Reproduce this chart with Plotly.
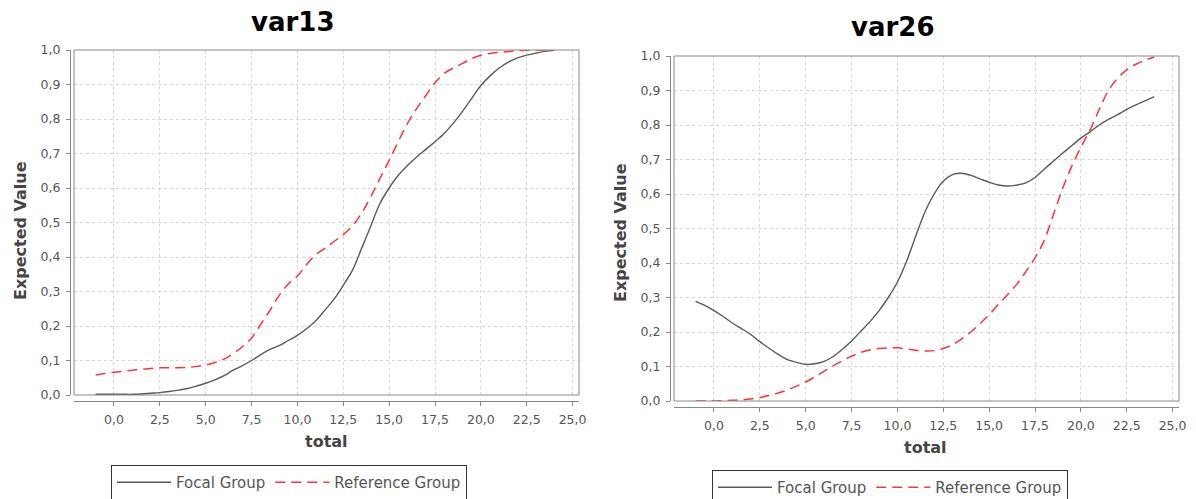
import plotly.graph_objects as go

W, H = 1196, 499

# ---------------- data ----------------
x_vals = [-1, -0.5, 0, 0.5, 1, 1.5, 2, 2.5, 3, 3.5, 4, 4.5, 5, 5.5, 6, 6.5, 7, 7.5, 8, 8.5,
          9, 9.5, 10, 10.5, 11, 11.5, 12, 12.5, 13, 13.5, 14, 14.5, 15, 15.5, 16, 16.5,
          17, 17.5, 18, 18.5, 19, 19.5, 20, 20.5, 21, 21.5, 22, 22.5, 23, 23.5, 24]

var13_focal = [0.002, 0.002, 0.002, 0.002, 0.002, 0.003, 0.005, 0.007, 0.010, 0.014, 0.019,
               0.026, 0.034, 0.044, 0.056, 0.072, 0.085, 0.100, 0.117, 0.132, 0.143, 0.158,
               0.173, 0.192, 0.215, 0.246, 0.278, 0.318, 0.362, 0.425, 0.490, 0.555, 0.600,
               0.637, 0.665, 0.690, 0.712, 0.734, 0.758, 0.788, 0.822, 0.860, 0.897, 0.925,
               0.948, 0.965, 0.977, 0.985, 0.991, 0.996, 0.999]

var13_reference = [0.058, 0.062, 0.066, 0.069, 0.072, 0.075, 0.077, 0.079, 0.079, 0.079, 0.080,
                   0.083, 0.087, 0.094, 0.104, 0.120, 0.140, 0.165, 0.205, 0.245, 0.288, 0.322,
                   0.345, 0.378, 0.407, 0.425, 0.445, 0.465, 0.490, 0.527, 0.575, 0.628, 0.680,
                   0.735, 0.787, 0.830, 0.868, 0.905, 0.932, 0.948, 0.961, 0.975, 0.985, 0.990,
                   0.993, 0.996, 0.998, 0.999, 1.000, 1.000, 1.000]

var26_focal = [0.289, 0.277, 0.262, 0.245, 0.226, 0.210, 0.193, 0.172, 0.153, 0.135, 0.120,
               0.112, 0.106, 0.108, 0.115, 0.129, 0.150, 0.174, 0.202, 0.230, 0.262, 0.300,
               0.345, 0.405, 0.478, 0.548, 0.600, 0.637, 0.656, 0.660, 0.654, 0.644, 0.634,
               0.626, 0.623, 0.626, 0.632, 0.648, 0.672, 0.695, 0.718, 0.740, 0.762, 0.780,
               0.800, 0.816, 0.830, 0.845, 0.858, 0.870, 0.882]

var26_reference = [0.000, 0.000, 0.000, 0.001, 0.002, 0.004, 0.006, 0.010, 0.016, 0.023, 0.032,
                   0.043, 0.055, 0.070, 0.086, 0.102, 0.117, 0.130, 0.141, 0.148, 0.152, 0.154,
                   0.154, 0.151, 0.147, 0.145, 0.146, 0.152, 0.163, 0.180, 0.200, 0.224, 0.250,
                   0.280, 0.308, 0.338, 0.375, 0.415, 0.465, 0.540, 0.615, 0.680, 0.735, 0.785,
                   0.845, 0.900, 0.935, 0.960, 0.976, 0.988, 0.997]

titles = ["var13", "var26"]
series_names = ["Focal Group", "Reference Group"]
x_title = "total"
y_title = "Expected Value"

# ---------------- styling ----------------
FONT = "DejaVu Sans"
TICK_COLOR = "#555555"
LABEL_COLOR = "#444444"
GRID_COLOR = "#d8d8d8"
AXIS_COLOR = "#888888"
FOCAL_COLOR = "#5a5a5a"
REF_COLOR = "#ff3333"


def px_x(p):
    return p / W


def px_y(p):
    return (H - p) / H


# panel geometry in pixels: (left, right, top, bottom, yaxis_line_x, xaxis_line_y)
panels = [
    (74, 579, 50, 395, 70, 401),
    (674, 1179, 56, 401, 670, 407),
]

fig = go.Figure()

for i, (fdata, rdata) in enumerate([(var13_focal, var13_reference),
                                    (var26_focal, var26_reference)]):
    xa = "x" if i == 0 else "x2"
    ya = "y" if i == 0 else "y2"
    lg = "legend" if i == 0 else "legend2"
    fig.add_trace(go.Scatter(x=x_vals, y=fdata, mode="lines", name=series_names[0],
                             line=dict(color=FOCAL_COLOR, width=1.4, shape="spline"),
                             xaxis=xa, yaxis=ya, legend=lg, showlegend=True))
    fig.add_trace(go.Scatter(x=x_vals, y=rdata, mode="lines", name=series_names[1],
                             line=dict(color=REF_COLOR, width=1.5, dash="10px,6px", shape="spline"),
                             xaxis=xa, yaxis=ya, legend=lg, showlegend=True))

axis_common = dict(
    showline=True, linecolor=AXIS_COLOR, linewidth=1,
    ticks="outside", ticklen=4, tickcolor=AXIS_COLOR, tickwidth=1,
    showgrid=True, gridcolor=GRID_COLOR, griddash="3px,3px", gridwidth=1,
    zeroline=False, tickformat=".1f", ticklabelstandoff=3,
    tickfont=dict(family=FONT, size=12.5, color=TICK_COLOR),
    fixedrange=True, automargin=False,
)

layout = dict(
    width=W, height=H, autosize=False,
    margin=dict(l=0, r=0, t=0, b=0, autoexpand=False),
    paper_bgcolor="white", plot_bgcolor="white",
    separators=", ",
    showlegend=True,
    shapes=[], annotations=[],
)

for i, (l, r, t, b, yl, xl) in enumerate(panels):
    sfx = "" if i == 0 else "2"
    layout["xaxis" + sfx] = dict(
        axis_common, domain=[px_x(l), px_x(r)], range=[-2.18, 25.35],
        tick0=0, dtick=2.5, anchor="free", position=px_y(xl),
    )
    layout["yaxis" + sfx] = dict(
        axis_common, domain=[px_y(b), px_y(t)], range=[0, 1],
        tick0=0, dtick=0.1, anchor="free", position=px_x(yl),
    )
    # plot border
    layout["shapes"].append(dict(
        type="rect", xref="x%s domain" % sfx, yref="y%s domain" % sfx,
        x0=0, x1=1, y0=0, y1=1, line=dict(color=AXIS_COLOR, width=1),
        fillcolor="rgba(0,0,0,0)", layer="above",
    ))

# titles and axis titles
title_pos = [(293, 22), (893, 27)]
ylab_pos = [(20, 231), (620, 233)]
xlab_pos = [(326, 441), (925, 447)]
for i in range(2):
    layout["annotations"].append(dict(
        text="<b>%s</b>" % titles[i], xref="paper", yref="paper",
        x=px_x(title_pos[i][0]), y=px_y(title_pos[i][1]), xanchor="center", yanchor="middle",
        showarrow=False, font=dict(family=FONT, size=26, color="black"),
    ))
    layout["annotations"].append(dict(
        text="<b>%s</b>" % y_title, xref="paper", yref="paper",
        x=px_x(ylab_pos[i][0]), y=px_y(ylab_pos[i][1]), xanchor="center", yanchor="middle",
        textangle=-90, showarrow=False, font=dict(family=FONT, size=16, color=LABEL_COLOR),
    ))
    layout["annotations"].append(dict(
        text="<b>%s</b>" % x_title, xref="paper", yref="paper",
        x=px_x(xlab_pos[i][0]), y=px_y(xlab_pos[i][1]), xanchor="center", yanchor="middle",
        showarrow=False, font=dict(family=FONT, size=16, color=LABEL_COLOR),
    ))

legend_common = dict(
    orientation="h", xanchor="left", yanchor="top",
    bordercolor="#333333", borderwidth=1, bgcolor="white",
    font=dict(family=FONT, size=15, color=TICK_COLOR),
    itemwidth=54,
    itemclick=False, itemdoubleclick=False,
)
layout["legend"] = dict(legend_common, x=px_x(111), y=px_y(465))
layout["legend2"] = dict(legend_common, x=px_x(712), y=px_y(470))

fig.update_layout(**layout)
fig.write_html(
    "out.html",
    config={"displayModeBar": False, "staticPlot": False},
    post_script=(
        "document.documentElement.style.margin='0';"
        "document.body.style.margin='0';"
        "document.documentElement.style.overflow='hidden';"
        "document.body.style.overflow='hidden';"
    ),
)
